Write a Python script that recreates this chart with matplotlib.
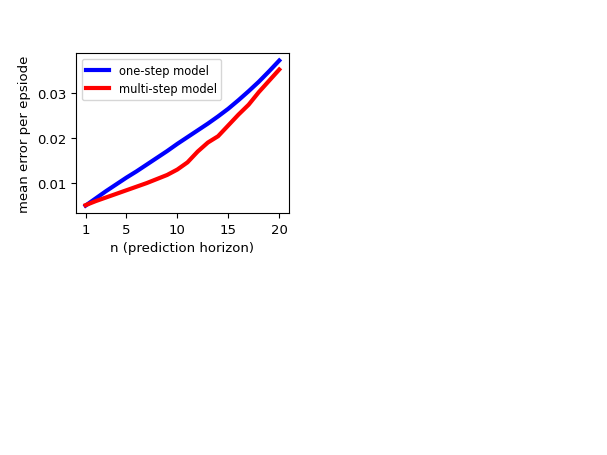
import numpy as np
from matplotlib import pyplot as plt

n = np.arange(1, 21)
one_step = [0.0050, 0.0066, 0.0082, 0.0097, 0.0112, 0.0126, 0.0141, 0.0156, 0.0171, 0.0187,
            0.0202, 0.0217, 0.0232, 0.0248, 0.0265, 0.0284, 0.0304, 0.0325, 0.0348, 0.0372]
multi_step = [0.0051, 0.0060, 0.0068, 0.0076, 0.0084, 0.0092, 0.0100, 0.0109, 0.0118, 0.0130,
              0.0146, 0.0170, 0.0190, 0.0204, 0.0228, 0.0252, 0.0274, 0.0302, 0.0327, 0.0352]
xticks = [1, 5, 10, 15, 20]

plt.rcParams['font.size'] = 9.5
fig = plt.figure(figsize=(6.07, 4.56), dpi=100)
ax = fig.add_axes([0.125, 0.531, 0.351, 0.35])
ax.plot(n, one_step, color='blue', lw=3, label='one-step model')
ax.plot(n, multi_step, color='red', lw=3, label='multi-step model')
ax.set_xticks(xticks)
ax.set_xlabel('n (prediction horizon)')
ax.set_ylabel('mean error per epsiode')
ax.legend(loc='upper left', fontsize=8.3)
fig.savefig('out.png', dpi=100)
